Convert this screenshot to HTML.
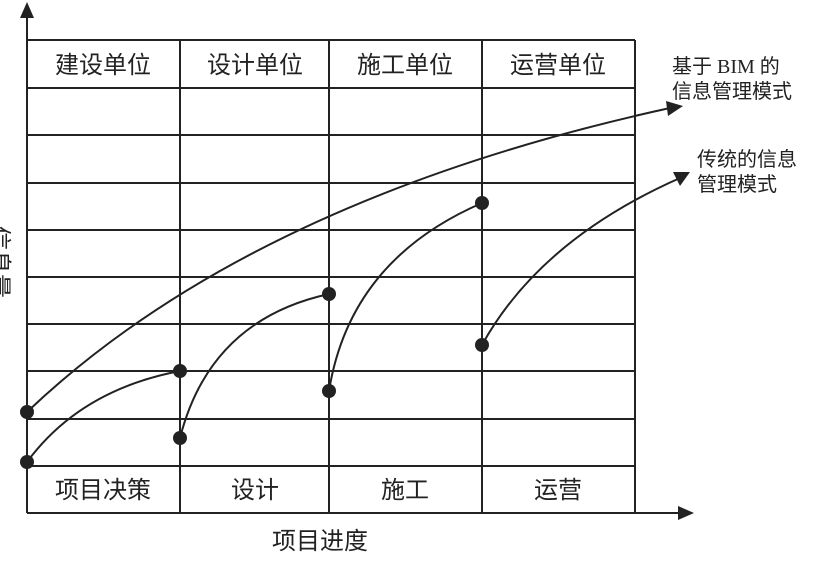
<!DOCTYPE html>
<html><head><meta charset="utf-8"><style>
html,body{margin:0;padding:0;background:#fff;}
svg text{font-family:"Liberation Serif","Noto Sans CJK SC",sans-serif;fill:#222;}
</style></head><body>
<svg width="819" height="571" viewBox="0 0 819 571" xmlns="http://www.w3.org/2000/svg">
<g stroke="#222" stroke-width="2" fill="none">
<line x1="27" y1="12" x2="27" y2="513"/>
<line x1="27" y1="513" x2="680" y2="513"/>
<line x1="27" y1="40" x2="635" y2="40"/>
<line x1="27" y1="88" x2="635" y2="88"/>
<line x1="27" y1="135" x2="635" y2="135"/>
<line x1="27" y1="183" x2="635" y2="183"/>
<line x1="27" y1="230" x2="635" y2="230"/>
<line x1="27" y1="277" x2="635" y2="277"/>
<line x1="27" y1="324" x2="635" y2="324"/>
<line x1="27" y1="371" x2="635" y2="371"/>
<line x1="27" y1="419" x2="635" y2="419"/>
<line x1="27" y1="466" x2="635" y2="466"/>
<line x1="180" y1="40" x2="180" y2="513"/>
<line x1="329" y1="40" x2="329" y2="513"/>
<line x1="482" y1="40" x2="482" y2="513"/>
<line x1="635" y1="40" x2="635" y2="513"/>
<path d="M27 412 Q250 200 670 108"/>
<path d="M27 462 Q80 390 180 371"/>
<path d="M180 438 Q210 320 329 294"/>
<path d="M329 391 Q350 260 482 203"/>
<path d="M482 345 Q540 240 680 178"/>
</g>
<g fill="#222">
<polygon points="27,2 20,18 34,18"/>
<polygon points="694,513 678,506 678,520"/>
<polygon points="683,106 666,101 668,116"/>
<polygon points="690,172 673,172 680,186"/>
<circle cx="27" cy="412" r="7"/><circle cx="27" cy="462" r="7"/>
<circle cx="180" cy="371" r="7"/><circle cx="180" cy="438" r="7"/>
<circle cx="329" cy="294" r="7"/><circle cx="329" cy="391" r="7"/>
<circle cx="482" cy="203" r="7"/><circle cx="482" cy="345" r="7"/>
</g>
<g font-size="24" text-anchor="middle">
<text x="103" y="73">建设单位</text>
<text x="255" y="73">设计单位</text>
<text x="405" y="73">施工单位</text>
<text x="558" y="73">运营单位</text>
<text x="103" y="498">项目决策</text>
<text x="255" y="498">设计</text>
<text x="405" y="498">施工</text>
<text x="558" y="498">运营</text>
<text x="320" y="549">项目进度</text>
<text transform="translate(-9,262) rotate(90)" x="0" y="0">信息量</text>
</g>
<g font-size="20">
<text x="672" y="73">基于 BIM 的</text>
<text x="672" y="98">信息管理模式</text>
<text x="697" y="166">传统的信息</text>
<text x="697" y="191">管理模式</text>
</g>
</svg>
</body></html>
